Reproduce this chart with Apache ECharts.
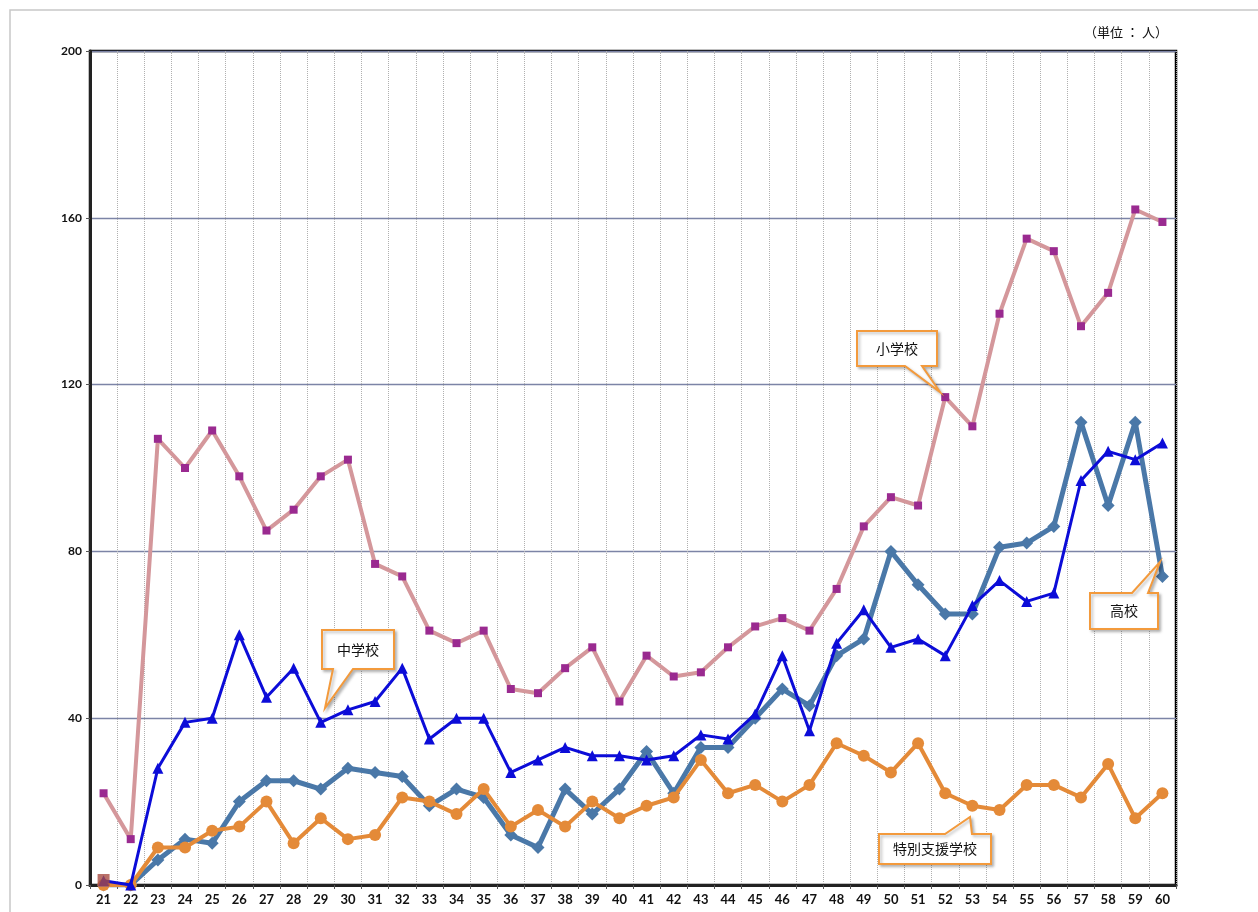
<!DOCTYPE html>
<html>
<head>
<meta charset="utf-8">
<script src="https://cdn.jsdelivr.net/npm/echarts@6/dist/echarts.min.js"></script>
<style>
  html, body { margin: 0; padding: 0; background: #fff; }
  #chart { width: 1258px; height: 912px; }
</style>
</head>
<body>
<div id="chart"></div>
<script>
// 年度 (x axis)
const years = ['21', '22', '23', '24', '25', '26', '27', '28', '29', '30',
  '31', '32', '33', '34', '35', '36', '37', '38', '39', '40',
  '41', '42', '43', '44', '45', '46', '47', '48', '49', '50',
  '51', '52', '53', '54', '55', '56', '57', '58', '59', '60']

const elementary = [22, 11, 107, 100, 109, 98, 85, 90, 98, 102,
  77, 74, 61, 58, 61, 47, 46, 52, 57, 44,
  55, 50, 51, 57, 62, 64, 61, 71, 86, 93,
  91, 117, 110, 137, 155, 152, 134, 142, 162, 159]

const juniorHigh = [1, 0, 28, 39, 40, 60, 45, 52, 39, 42,
  44, 52, 35, 40, 40, 27, 30, 33, 31, 31,
  30, 31, 36, 35, 41, 55, 37, 58, 66, 57,
  59, 55, 67, 73, 68, 70, 97, 104, 102, 106]

const highSchool = [0, 0, 6, 11, 10, 20, 25, 25, 23, 28,
  27, 26, 19, 23, 21, 12, 9, 23, 17, 23,
  32, 22, 33, 33, 40, 47, 43, 55, 59, 80,
  72, 65, 65, 81, 82, 86, 111, 91, 111, 74]

const special = [0, 0, 9, 9, 13, 14, 20, 10, 16, 11,
  12, 21, 20, 17, 23, 14, 18, 14, 20, 16,
  19, 21, 30, 22, 24, 20, 24, 34, 31, 27,
  34, 22, 19, 18, 24, 24, 21, 29, 16, 22]

// stray marker sitting on year 21
const startMarker = [['21', 1.2]]

const yTicks = { min: 0, max: 200, interval: 40 }

const labelFont = 'Lato, "Open Sans", sans-serif'
const jpFont = '"Noto Sans CJK JP", sans-serif'

// callout: box + pointer (pointer on top or bottom edge)
function callout(box, base, tip, text) {
  const [x1, y1, x2, y2] = box
  let pts
  if (tip[1] > y2) {
    pts = [[x1, y1], [x2, y1], [x2, y2], [base[1], y2], tip, [base[0], y2], [x1, y2]]
  } else {
    pts = [[x1, y1], [base[0], y1], tip, [base[1], y1], [x2, y1], [x2, y2], [x1, y2]]
  }
  return [{
    type: 'polygon',
    z: 100,
    shape: { points: pts },
    style: {
      fill: '#fff',
      stroke: '#f39a3c',
      lineWidth: 2,
      shadowBlur: 3,
      shadowOffsetX: 2,
      shadowOffsetY: 2,
      shadowColor: 'rgba(0,0,0,0.25)'
    }
  }, {
    type: 'text',
    z: 101,
    x: (x1 + x2) / 2,
    y: (y1 + y2) / 2,
    style: {
      text: text,
      font: '14px ' + jpFont,
      fill: '#111',
      align: 'center',
      verticalAlign: 'middle'
    }
  }]
}

const chart = echarts.init(document.getElementById('chart'))

chart.setOption({
  animation: false,
  backgroundColor: '#fff',
  grid: {
    left: 90,
    right: 82,
    top: 51,
    bottom: 27,
    show: true,
    borderColor: '#000',
    borderWidth: 2.5
  },
  xAxis: {
    type: 'category',
    data: years,
    boundaryGap: true,
    axisLine: { lineStyle: { color: '#222', width: 3 } },
    axisTick: { show: true, length: 4, lineStyle: { color: '#555' } },
    axisLabel: {
      color: '#111',
      fontFamily: labelFont,
      fontWeight: 'bold',
      fontSize: 13,
      margin: 8
    },
    splitLine: {
      show: true,
      lineStyle: { color: '#b0b0b0', type: 'dotted', width: 1 }
    }
  },
  yAxis: {
    type: 'value',
    min: yTicks.min,
    max: yTicks.max,
    interval: yTicks.interval,
    axisLine: { show: true, lineStyle: { color: '#222', width: 3 } },
    axisTick: { show: true, length: 4, lineStyle: { color: '#555' } },
    axisLabel: {
      color: '#111',
      fontFamily: labelFont,
      fontWeight: 'bold',
      fontSize: 12,
      margin: 8
    },
    splitLine: {
      show: true,
      lineStyle: { color: '#7c84a6', width: 1.3 }
    }
  },
  series: [
    {
      name: '高校',
      type: 'line',
      data: highSchool,
      z: 2,
      symbol: 'diamond',
      symbolSize: 13,
      lineStyle: { color: '#4a78a8', width: 5 },
      itemStyle: { color: '#4a78a8' }
    },
    {
      name: '特別支援学校',
      type: 'line',
      data: special,
      z: 3,
      symbol: 'circle',
      symbolSize: 12,
      lineStyle: { color: '#e48a38', width: 4 },
      itemStyle: { color: '#e48a38' }
    },
    {
      name: '中学校',
      type: 'line',
      data: juniorHigh,
      z: 4,
      symbol: 'triangle',
      symbolSize: 11,
      lineStyle: { color: '#0c0cd8', width: 3 },
      itemStyle: { color: '#0c0cd8' }
    },
    {
      name: '小学校',
      type: 'line',
      data: elementary,
      z: 5,
      symbol: 'rect',
      symbolSize: 8,
      lineStyle: { color: '#d4979b', width: 4 },
      itemStyle: { color: '#9a2a90' }
    },
    {
      name: 'start',
      type: 'scatter',
      data: startMarker,
      z: 6,
      symbol: 'rect',
      symbolSize: 12,
      itemStyle: { color: '#a84c42' }
    }
  ],
  graphic: [
    {
      type: 'rect',
      z: -1,
      silent: true,
      shape: { x: 10, y: 10, width: 1260, height: 920 },
      style: { fill: 'none', stroke: '#c8c8c8', lineWidth: 1.5 }
    },
    {
      type: 'text',
      x: 1126,
      y: 32,
      style: {
        text: '（単位 ： 人）',
        font: '13px ' + jpFont,
        fill: '#111',
        align: 'center',
        verticalAlign: 'middle'
      }
    },
    ...callout([857, 331, 937, 366], [905, 922], [940, 392], '小学校'),
    ...callout([322, 630, 394, 669], [333, 353], [325, 708], '中学校'),
    ...callout([1090, 593, 1158, 629], [1132, 1148], [1160, 562], '高校'),
    ...callout([879, 834, 991, 864], [945, 972], [970, 817], '特別支援学校')
  ]
})
</script>
</body>
</html>
